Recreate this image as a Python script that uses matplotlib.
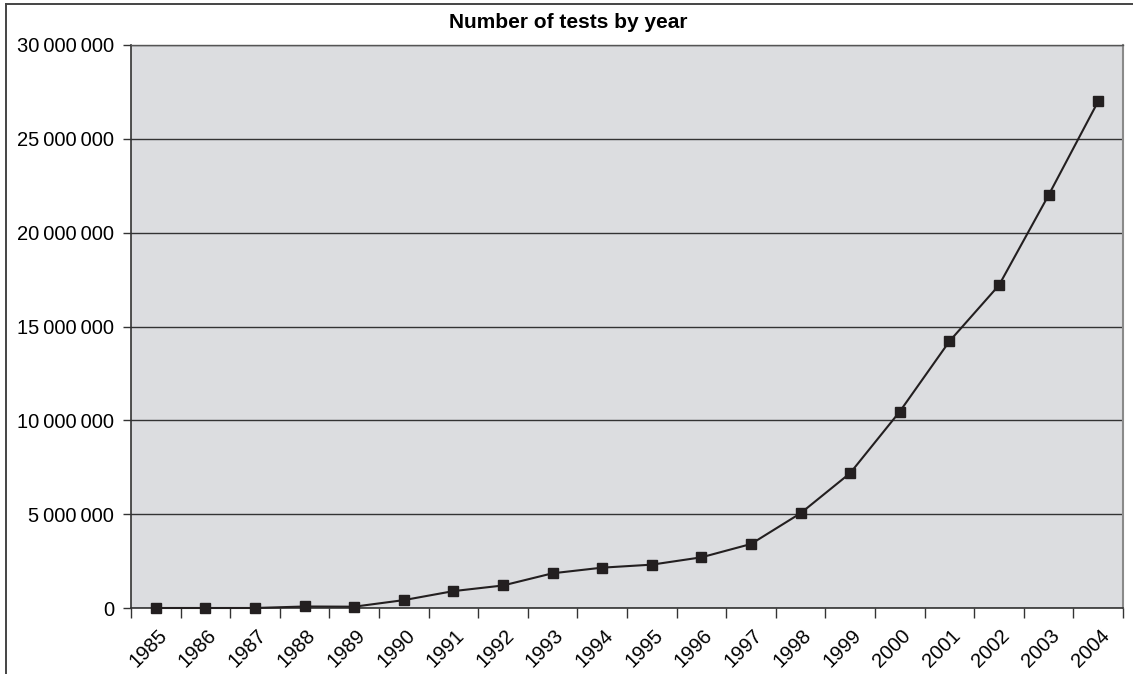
import matplotlib
matplotlib.use("Agg")
import matplotlib.pyplot as plt
import matplotlib.transforms as mtransforms
from matplotlib.ticker import FuncFormatter, MultipleLocator, FixedLocator
from matplotlib.lines import Line2D

years = ["1985", "1986", "1987", "1988", "1989", "1990", "1991", "1992", "1993", "1994",
         "1995", "1996", "1997", "1998", "1999", "2000", "2001", "2002", "2003", "2004"]
tests = [0, 0, 0, 80000, 70000, 420000, 900000, 1200000, 1850000, 2150000,
         2310000, 2700000, 3410000, 5050000, 7190000, 10470000, 14210000, 17200000, 22000000, 27000000]

title = "Number of tests by year"
y_max = 30000000
y_step = 5000000

plt.rcParams["font.family"] = ["Liberation Sans", "DejaVu Sans"]

fig = plt.figure(figsize=(11.33, 6.74), dpi=100)
ax = fig.add_axes([131 / 1133, 1 - 608 / 674, (1123 - 131) / 1133, (608 - 45) / 674])
ax.set_facecolor("#dcdde0")

x = list(range(len(years)))
ax.plot(x, tests, color="#231f20", linewidth=1.5, marker="s", markersize=7.2,
        markerfacecolor="#231f20", markeredgecolor="#231f20", zorder=3, clip_on=False)

ax.set_xlim(-0.5, len(years) - 0.5)
ax.set_ylim(0, y_max)

# y axis: grouped digits separated by a thin space
def fmt(v, pos):
    return f"{int(v):,}".replace(",", "\u2009")

ax.yaxis.set_major_locator(MultipleLocator(y_step))
ax.yaxis.set_major_formatter(FuncFormatter(fmt))
ax.yaxis.grid(True, color="#333333", linewidth=1.0)
ax.set_axisbelow(True)
ax.tick_params(axis="y", direction="out", length=6, width=1, color="#333333",
               labelsize=14.5, pad=6, labelcolor="black")

# x axis: category labels centered, tick marks between categories
ax.set_xticks(x)
ax.set_xticklabels(years, rotation=45, ha="right", va="center", rotation_mode="anchor")
ax.xaxis.set_minor_locator(FixedLocator([i - 0.5 for i in range(len(years) + 1)]))
ax.tick_params(axis="x", which="major", length=0, labelsize=14.5, pad=17)
ax.tick_params(axis="x", which="minor", direction="out", length=7, width=1, color="#333333")

shift = mtransforms.ScaledTranslation(8 / 100, -1 / 100, fig.dpi_scale_trans)
for lbl in ax.get_xticklabels():
    lbl.set_transform(lbl.get_transform() + shift)

for side in ("left", "bottom"):
    ax.spines[side].set_color("#333333")
    ax.spines[side].set_linewidth(1.2)
ax.spines["top"].set_color("#555555")
ax.spines["top"].set_linewidth(1.0)
ax.spines["right"].set_color("#8a8a8a")
ax.spines["right"].set_linewidth(1.5)

fig.text(568 / 1133, 1 - 22 / 674, title, ha="center", va="center",
         fontsize=15, fontweight="bold")

# outer chart frame
fig.add_artist(Line2D([6 / 1133, 6 / 1133], [0, 1 - 4 / 674], transform=fig.transFigure,
                      color="#444444", linewidth=1.4))
fig.add_artist(Line2D([6 / 1133, 1], [1 - 4 / 674, 1 - 4 / 674], transform=fig.transFigure,
                      color="#444444", linewidth=1.4))

fig.savefig("out.png", dpi=100, facecolor="white")
